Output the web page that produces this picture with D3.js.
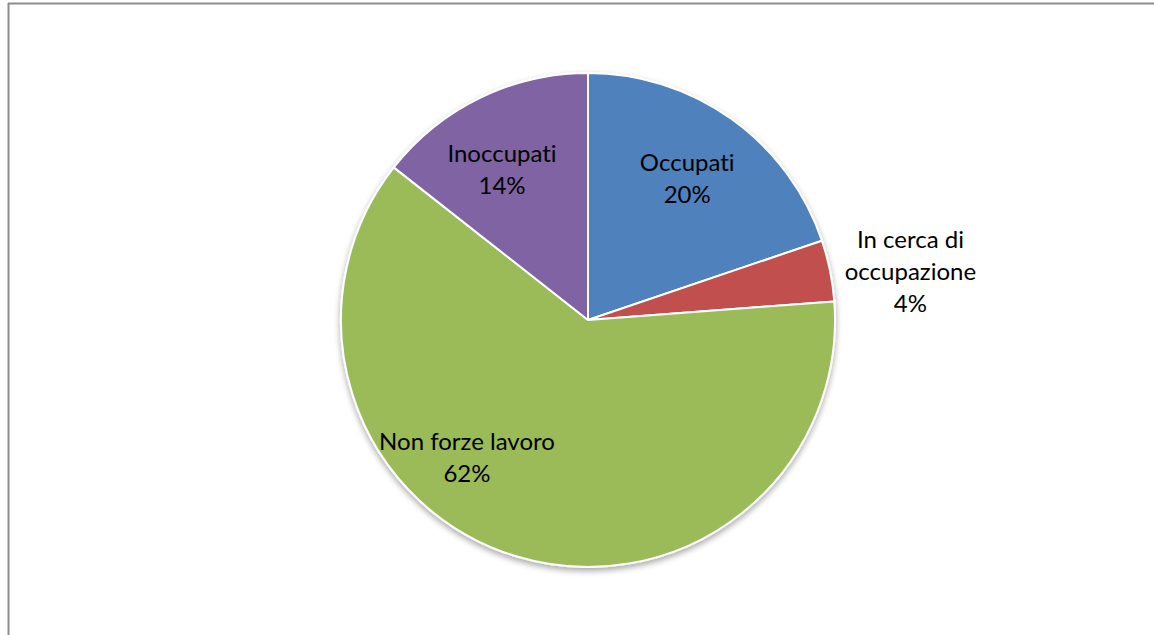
<!DOCTYPE html>
<html>
<head>
<meta charset="utf-8">
<script src="https://cdn.jsdelivr.net/npm/d3@7"></script>
<style>
  html, body { margin: 0; padding: 0; background: #fff; }
  #chart { width: 1154px; height: 635px; }
  text { font-variant-ligatures: none; font-feature-settings: "liga" 0; }
</style>
</head>
<body>
<div id="chart"></div>
<script>
const categorie = ["Occupati", "In cerca di occupazione", "Non forze lavoro", "Inoccupati"];
const valori = [19.8, 4.0, 61.8, 14.4];
const colori = ["#4F81BD", "#C0504D", "#9BBB59", "#8064A2"];
// righe delle etichette come in Excel
const righeEtichette = [["Occupati"], ["In cerca di", "occupazione"], ["Non forze lavoro"], ["Inoccupati"]];
// posizione etichette: [angolo in gradi, distanza dal centro]
const posEtichette = [[35, 173], [81.5, 326], [221.4, 183], [330.2, 173]];

const width = 1154, height = 635;
const cx = 588, cy = 320, r = 247;

const svg = d3.select("#chart").append("svg")
  .attr("width", width).attr("height", height)
  .style("font-family", "Lato, 'Open Sans', sans-serif");

// cornice del grafico
svg.append("line").attr("x1", 8.5).attr("x2", 8.5).attr("y1", 3).attr("y2", height).attr("stroke", "#8c8c8c").attr("stroke-width", 2);
svg.append("line").attr("x1", 8).attr("x2", width).attr("y1", 3.5).attr("y2", 3.5).attr("stroke", "#8c8c8c").attr("stroke-width", 2);

const defs = svg.append("defs");
const f = defs.append("filter").attr("id", "ombra").attr("x", "-10%").attr("y", "-10%").attr("width", "120%").attr("height", "120%");
f.append("feGaussianBlur").attr("in", "SourceAlpha").attr("stdDeviation", 3);
f.append("feOffset").attr("dx", 0).attr("dy", 3).attr("result", "o");
f.append("feComponentTransfer").append("feFuncA").attr("type", "linear").attr("slope", 0.35);
const m = f.append("feMerge");
m.append("feMergeNode");
m.append("feMergeNode").attr("in", "SourceGraphic");

const dati = categorie.map((c, i) => ({ nome: c, valore: valori[i], colore: colori[i], righe: righeEtichette[i], pos: posEtichette[i] }));

const pie = d3.pie().sort(null).value((d) => d.valore);
const arc = d3.arc().innerRadius(0).outerRadius(r);

const g = svg.append("g").attr("transform", `translate(${cx},${cy})`);
const fette = g.append("g").attr("filter", "url(#ombra)");
fette.selectAll("path").data(pie(dati)).join("path")
  .attr("d", arc)
  .attr("fill", (d) => d.data.colore)
  .attr("stroke", "#fff")
  .attr("stroke-width", 2)
  .attr("stroke-linejoin", "round");

const totale = d3.sum(valori);
const lh = 32;
const etichette = g.selectAll("text.etichetta").data(dati).join("text")
  .attr("class", "etichetta")
  .attr("text-anchor", "middle")
  .attr("font-size", 24)
  .attr("fill", "#000")
  .attr("transform", (d) => {
    const a = d.pos[0] * Math.PI / 180;
    return `translate(${Math.sin(a) * d.pos[1]},${-Math.cos(a) * d.pos[1]})`;
  });

etichette.each(function (d) {
  const t = d3.select(this);
  const linee = [...d.righe, `${Math.round(d.valore / totale * 100)}%`];
  const y0 = -((linee.length - 1) * lh) / 2;
  linee.forEach((l, i) => {
    t.append("tspan").attr("x", 0).attr("y", y0 + i * lh).attr("dy", "0.35em").text(l);
  });
});
</script>
</body>
</html>
